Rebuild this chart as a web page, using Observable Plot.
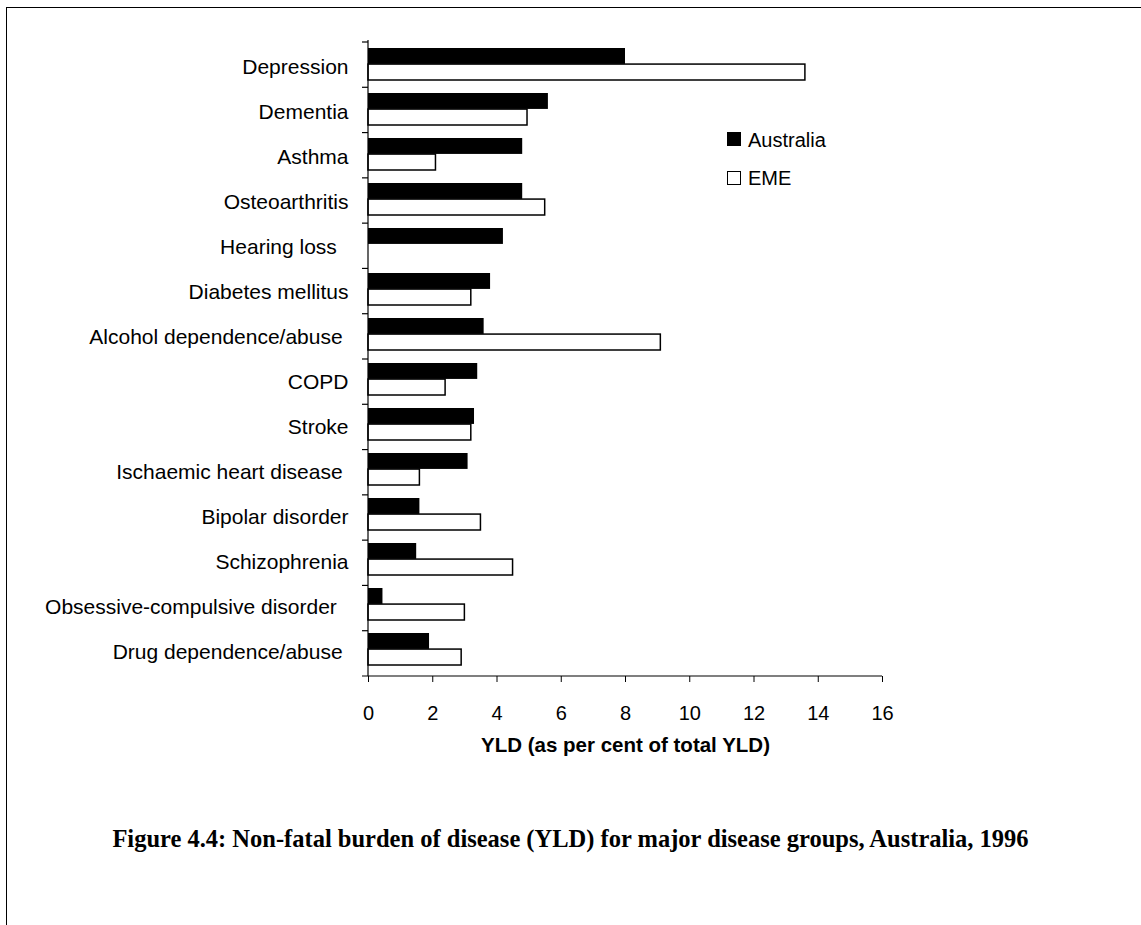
<!DOCTYPE html>
<html>
<head>
<meta charset="utf-8">
<script src="https://cdn.jsdelivr.net/npm/d3@7"></script>
<script src="https://cdn.jsdelivr.net/npm/@observablehq/plot@0.6"></script>
<style>
  html, body { margin: 0; padding: 0; background: #fff; overflow: hidden; width: 1141px; height: 925px; }
  #wrap { position: relative; width: 1141px; height: 925px; overflow: hidden; }
  #border { position: absolute; left: 6px; top: 7px; width: 1300px; height: 1100px;
            border-top: 1.5px solid #000; border-left: 1.5px solid #000; box-sizing: border-box; }
  #chart { position: absolute; left: 0; top: 0; }
  .sw { position: absolute; left: 727px; width: 14px; height: 14px; box-sizing: border-box; border: 1.5px solid #000; }
  .lt { position: absolute; left: 748px; font: 20px "Liberation Sans", Arial, sans-serif; line-height: 20px; color: #000; white-space: nowrap; }
  #caption { position: absolute; left: 0; top: 827px; width: 1141px; text-align: center;
             font: bold 24.5px "Liberation Serif", "Times New Roman", serif; line-height: 24.5px; color: #000; white-space: nowrap; }
</style>
</head>
<body>
<div id="wrap">
  <div id="border"></div>
  <div id="chart"></div>
  <div class="sw" style="top:132px;background:#000"></div>
  <div class="lt" style="top:129.5px">Australia</div>
  <div class="sw" style="top:171px;background:#fff"></div>
  <div class="lt" style="top:168px">EME</div>
  <div id="caption">Figure 4.4: Non-fatal burden of disease (YLD) for major disease groups, Australia, 1996</div>
</div>
<script>
// ---- data ----
const causes = [
  "Depression", "Dementia", "Asthma", "Osteoarthritis", "Hearing loss",
  "Diabetes mellitus", "Alcohol dependence/abuse", "COPD", "Stroke",
  "Ischaemic heart disease", "Bipolar disorder", "Schizophrenia",
  "Obsessive-compulsive disorder", "Drug dependence/abuse"
];
// tick labels as printed (some carry trailing spaces in the original)
const causeLabels = [
  "Depression", "Dementia", "Asthma", "Osteoarthritis", "Hearing loss\u00a0\u00a0",
  "Diabetes mellitus", "Alcohol dependence/abuse\u00a0", "COPD", "Stroke",
  "Ischaemic heart disease\u00a0", "Bipolar disorder", "Schizophrenia",
  "Obsessive-compulsive disorder\u00a0\u00a0", "Drug dependence/abuse\u00a0"
];
const australia = [8.0, 5.6, 4.8, 4.8, 4.2, 3.8, 3.6, 3.4, 3.3, 3.1, 1.6, 1.5, 0.45, 1.9];
const eme       = [13.6, 4.95, 2.1, 5.5, null, 3.2, 9.1, 2.4, 3.2, 1.6, 3.5, 4.5, 3.0, 2.9];
const xTicks = [0, 2, 4, 6, 8, 10, 12, 14, 16];
const xLabel = "YLD (as per cent of total YLD)";

// ---- build table ----
const rowsAus = causes.map((c, i) => ({cause: c, series: "Australia", value: australia[i]}));
const rowsEme = causes.map((c, i) => ({cause: c, series: "EME", value: eme[i]})).filter(d => d.value != null);

// ---- layout ----
const W = 1141, H = 780;
const ML = 368, MR = W - 882, MT = 42, MB = H - 676;
const padInner = 0.29;
const step = (H - MT - MB) / causes.length;
const bw = step * (1 - padInner);
const half = bw / 2;

// axis lines + boundary ticks (category axis ticks sit between categories)
function axisDecor(index, scales) {
  const x = scales.x, y = scales.y;
  const [r0, r1] = y.range();
  const st = (r1 - r0) / y.domain().length;
  const x0 = x(0), xEnd = x(xTicks[xTicks.length - 1]);
  const g = d3.create("svg:g").attr("stroke", "black").attr("stroke-width", 1.2).attr("fill", "none");
  g.append("line").attr("x1", x0).attr("x2", x0).attr("y1", r0 - 2).attr("y2", r1);
  g.append("line").attr("x1", x0 - 6).attr("x2", xEnd).attr("y1", r1).attr("y2", r1);
  for (let i = 0; i < y.domain().length; i++) {
    const yy = r0 + i * st;
    g.append("line").attr("x1", x0 - 6).attr("x2", x0).attr("y1", yy).attr("y2", yy);
  }
  return g.node();
}

const chart = Plot.plot({
  width: W, height: H,
  marginLeft: ML, marginRight: MR, marginTop: MT, marginBottom: MB,
  style: {fontFamily: '"Liberation Sans", Arial, sans-serif', fontSize: "20px", color: "black", background: "transparent", overflow: "visible"},
  x: {domain: [0, 16]},
  y: {domain: causes, paddingInner: padInner, paddingOuter: padInner / 2, align: 0.33},
  marks: [
    Plot.barX(rowsAus, {x: "value", y: "cause", fill: "black", insetBottom: half}),
    Plot.barX(rowsEme, {x: "value", y: "cause", fill: "white", stroke: "black", strokeWidth: 1.5, insetTop: half}),
    axisDecor,
    Plot.axisX(xTicks, {tickSize: 6, tickPadding: 23, tickFormat: d => String(d), label: null, stroke: "black"}),
    Plot.axisY({tickSize: 0, tickPadding: 20, label: null, fontSize: 21, dy: 2.5, tickFormat: d => causeLabels[causes.indexOf(d)]}),
    Plot.text([xLabel], {text: d => d, frameAnchor: "bottom", dy: 75, fontWeight: "bold", fontSize: 20.5})
  ]
});
document.getElementById("chart").appendChild(chart);
</script>
</body>
</html>
